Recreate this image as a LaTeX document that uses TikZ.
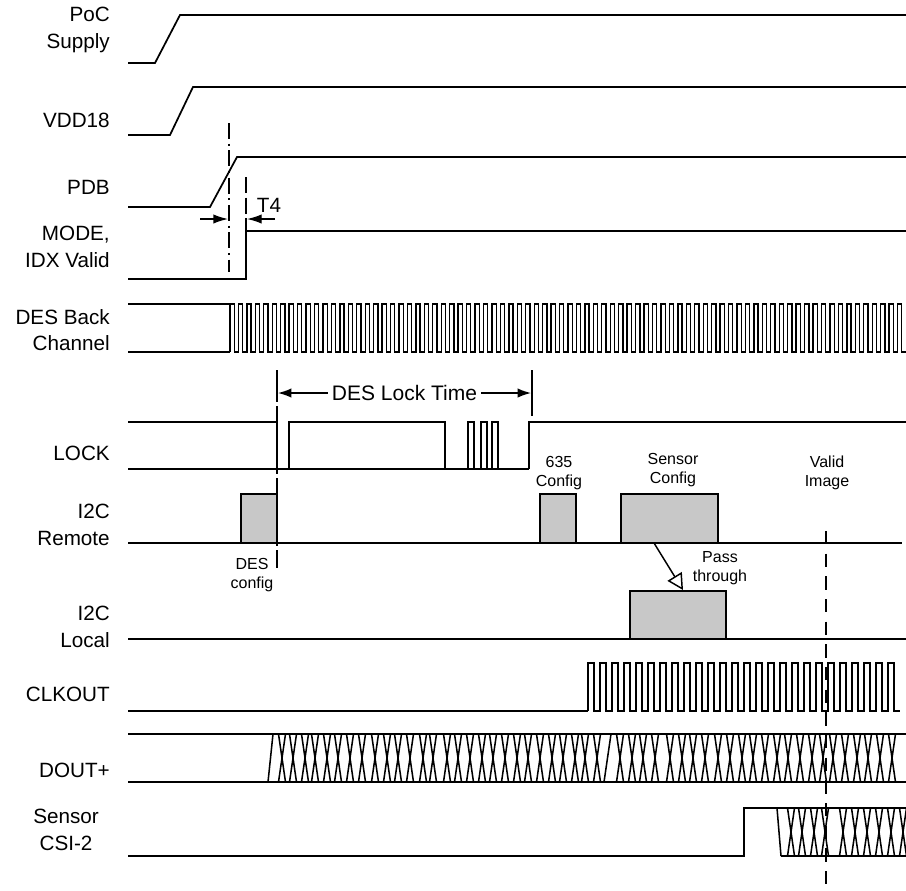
\documentclass[tikz,border=0pt]{standalone}
\usepackage{fontspec}
\setmainfont{Liberation Sans}
\usetikzlibrary{arrows.meta}
\definecolor{boxgray}{RGB}{200,200,200}
\begin{document}
\begin{tikzpicture}[x=0.75pt,y=-0.75pt,
  sig/.style={line width=1.3pt, line join=miter},
  wave/.style={line width=1pt},
  xing/.style={line width=1.15pt},
  lbl/.style={font=\fontsize{15.5}{20}\selectfont, align=right, anchor=east, inner sep=0pt},
  small/.style={font=\fontsize{12}{14.5}\selectfont, align=center, inner sep=0pt},
  cfg/.style={draw=black, fill=boxgray, line width=1.3pt},
  vdashA/.style={line width=1.3pt, dash pattern=on 12pt off 3.5pt on 1.5pt off 3.5pt},
  vdashB/.style={line width=1.3pt, dash pattern=on 12pt off 3.5pt},
  vdashC/.style={line width=1.3pt, dash pattern=on 24pt off 3pt},
  vdashD/.style={line width=1.3pt, dash pattern=on 10pt off 7pt},
]
\useasboundingbox (0,0) rectangle (906,890);

% ---------- labels ----------
\node[lbl] (lpoc) at (110,30) {PoC\\Supply};
\node[lbl] (lvdd) at (110,120) {VDD18};
\node[lbl] (lpdb) at (110,187) {PDB};
\node[lbl] (lmode) at (110,247) {MODE,\\IDX Valid};
\node[lbl] (ldes) at (110,330) {DES Back\\Channel};
\node[lbl] (llock) at (110,453) {LOCK};
\node[lbl] (lrem) at (110,525) {I2C\\Remote};
\node[lbl] (lloc) at (110,627) {I2C\\Local};
\node[lbl] (lclk) at (110,694) {CLKOUT};
\node[lbl] (ldout) at (110,770) {DOUT+};
\node[lbl, anchor=center, align=center] (lcsi) at (66,830) {Sensor\\CSI-2};

% ---------- PoC, VDD18, PDB ----------
\draw[sig] (128,63) -- (155,63) -- (180,15) -- (906,15);
\draw[sig] (128,135) -- (170,135) -- (193,87) -- (906,87);
\draw[sig] (128,207) -- (210,207) -- (237,157) -- (906,157);

% ---------- MODE ----------
\draw[sig] (128,279) -- (246,279) -- (246,231) -- (906,231);

% ---------- T4 ----------
\draw[vdashA] (229,123) -- (229,272);
\draw[vdashB] (246,177) -- (246,231);
\coordinate (t4a) at (200,219);
\coordinate (t4b) at (228,219);
\coordinate (t4c) at (275,219);
\coordinate (t4d) at (247,219);
\draw[line width=1pt, -{Latex[length=11pt,width=7pt]}] (t4a) -- (t4b);
\draw[line width=1pt, -{Latex[length=11pt,width=7pt]}] (t4c) -- (t4d);
\node[font=\fontsize{15.5}{18}\selectfont, inner sep=0pt] (t4) at (269,205) {T4};

% ---------- DES Back Channel ----------
\draw[sig] (128,304) -- (230,304);
\draw[sig] (128,352) -- (230,352);
\draw[wave] (230,352) \foreach \i in {0,...,79} { -- ++(0,-48) -- ++(4.225,0) -- ++(0,48) -- ++(4.225,0)};

% ---------- DES Lock Time ----------
\draw[vdashC] (277,370) -- (277,568);
\draw[line width=1.3pt] (532,370) -- (532,416);
\coordinate (dlL) at (278,393);
\coordinate (dlR) at (531,393);
\draw[line width=1.1pt, {Latex[length=10pt,width=7pt]}-{Latex[length=10pt,width=7pt]}] (dlL) -- node[fill=white, inner xsep=3pt, inner ysep=1pt, font=\fontsize{15.75}{18}\selectfont] (dlt) {DES Lock Time} (dlR);

% ---------- LOCK ----------
\draw[sig] (128,469) -- (529,469);
\draw[sig] (128,422) -- (277,422) -- (277,469);
\draw[sig] (289,469) -- (289,422) -- (445,422) -- (445,469);
\draw[sig] (468,469) -- (468,422) -- (474,422) -- (474,469);
\draw[sig] (481,469) -- (481,422) -- (487,422) -- (487,469);
\draw[sig] (492,469) -- (492,422) -- (498,422) -- (498,469);
\draw[sig] (529,469) -- (529,422) -- (906,422);

% ---------- I2C Remote ----------
\draw[sig] (128,543) -- (902,543);
\draw[cfg] (241,494) rectangle (277,543);
\draw[cfg] (540,494) rectangle (576,543);
\draw[cfg] (621,494) rectangle (718,543);
\node[small] (tdes) at (252,575) {DES\\config};
\node[small] (t635) at (559,473) {635\\Config};
\node[small] (tsen) at (673,470) {Sensor\\Config};
\node[small] (tval) at (827,473) {Valid\\Image};

% ---------- I2C Local ----------
\draw[sig] (128,639) -- (906,639);
\draw[cfg] (630,591) rectangle (726,639);
\coordinate (pt1) at (654,543);
\coordinate (pt2) at (683,590);
\draw[line width=1.1pt, -{Triangle[open, length=12pt, width=12.5pt]}] (pt1) -- (pt2);
\node[small] (tpass) at (720,568) {Pass\\through};

% ---------- CLKOUT ----------
\draw[sig] (128,711) -- (588,711);
\draw[wave] (588,711) \foreach \i in {0,...,25} { -- ++(0,-48) -- ++(6,0) -- ++(0,48) -- ++(6,0)};

% ---------- DOUT+ ----------
\draw[sig] (128,734) -- (906,734);
\draw[sig] (128,782) -- (906,782);
\draw[xing] (268,782) -- (273,734);
\draw[xing] (604,782) -- (611,734);
\foreach \x in {282,293,305,315,327,338,350,362,375,387,398,410,423,433,447,458,470,482,493,505,517,528,540,552,563,575,585,597,620,632,643,655,670,682,693,705,718,730,742,753,765,777,788,800,812,823,833,845,857,868,880,892}
  { \draw[xing] (\x-3.5,734) -- (\x+3.5,782) (\x-3.5,782) -- (\x+3.5,734); }

% ---------- Sensor CSI-2 ----------
\draw[sig] (128,856) -- (744,856) -- (744,808) -- (906,808);
\draw[sig] (781,856) -- (906,856);
\draw[xing] (777,808) -- (781,856);
\foreach \x in {791,802,814,825,843,855,867,879,891,903}
  { \draw[xing] (\x-3.5,808) -- (\x+3.5,856) (\x-3.5,856) -- (\x+3.5,808); }

% ---------- Valid image marker ----------
\draw[vdashD] (826,531) -- (826,884);
\end{tikzpicture}
\end{document}
